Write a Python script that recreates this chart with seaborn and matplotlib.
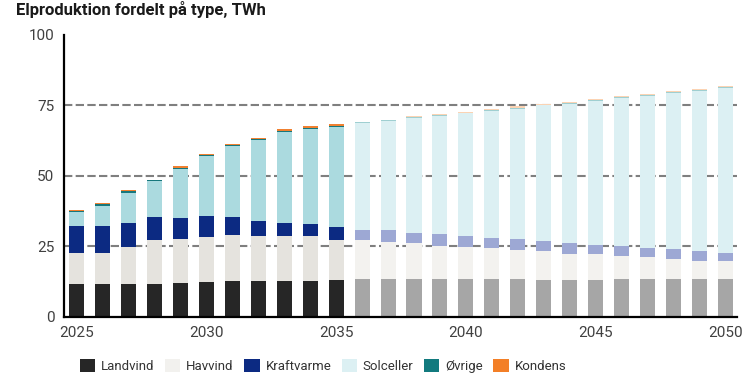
import seaborn as sns
import matplotlib.pyplot as plt
import matplotlib.patches as mpatches
import numpy as np
import pandas as pd

# Elproduktion fordelt på type, TWh (2025-2035 basis, 2036-2050 fremskrivning)
years = list(range(2025, 2051))
landvind = [11.5, 11.5, 11.5, 11.5, 11.9, 12.3, 12.6, 12.6, 12.6, 12.6, 13.0, 13.2, 13.2,
            13.2, 13.2, 13.2, 13.2, 13.2, 13.0, 13.0, 13.0, 13.3, 13.3, 13.3, 13.3, 13.3]
havvind = [11.1, 11.1, 13.3, 15.7, 15.6, 15.8, 16.4, 16.0, 16.0, 16.0, 14.3, 14.0, 13.2,
           12.8, 11.9, 11.6, 11.2, 10.4, 10.4, 9.4, 9.2, 8.2, 7.7, 7.2, 6.5, 6.3]
kraftvarme = [9.6, 9.6, 8.6, 8.0, 7.4, 7.6, 6.2, 5.4, 4.7, 4.3, 4.5, 3.7, 4.2,
              3.8, 4.1, 3.9, 3.5, 3.8, 3.4, 3.9, 3.4, 3.6, 3.4, 3.6, 3.5, 3.1]
solceller = [4.9, 7.2, 10.6, 12.8, 17.6, 21.4, 25.2, 28.6, 32.3, 33.7, 35.5, 37.8, 38.8,
             40.7, 42.1, 43.4, 45.2, 46.4, 48.2, 49.3, 51.0, 52.5, 54.0, 55.4, 56.9, 58.4]
ovrige = [0.4, 0.4, 0.5, 0.3, 0.3, 0.3, 0.4, 0.3, 0.3, 0.3, 0.3, 0.2, 0.2,
          0.2, 0.2, 0.2, 0.2, 0.2, 0.2, 0.2, 0.2, 0.2, 0.2, 0.2, 0.2, 0.2]
kondens = [0.5, 0.5, 0.6, 0.3, 0.5, 0.3, 0.5, 0.5, 0.5, 0.6, 0.6, 0.3, 0.3,
           0.3, 0.4, 0.3, 0.4, 0.6, 0.4, 0.5, 0.4, 0.5, 0.5, 0.3, 0.5, 0.5]
last_base_year = 2035

series_names = ["Landvind", "Havvind", "Kraftvarme", "Solceller", "Øvrige", "Kondens"]
colors_base = ["#262626", "#e5e3de", "#0c2a82", "#abdadf", "#17777c", "#f08030"]
colors_proj = ["#a6a6a6", "#f3f2ef", "#9da8d4", "#dcf0f3", "#9fcfd1", "#fbd3b3"]
legend_colors = ["#262626", "#f2f1ee", "#0c2a82", "#dcf0f3", "#127a7e", "#f37f27"]

sns.set_theme(style="white")
plt.rcParams["font.family"] = ["Roboto", "DejaVu Sans"]

df = pd.DataFrame({"year": years, "Landvind": landvind, "Havvind": havvind,
                   "Kraftvarme": kraftvarme, "Solceller": solceller,
                   "Øvrige": ovrige, "Kondens": kondens})
stack = df[series_names].cumsum(axis=1)
period = np.where(df["year"] <= last_base_year, "base", "proj")

fig = plt.figure(figsize=(7.5, 3.84), dpi=100)
ax = fig.add_axes([0.0857, 0.1753, 0.897, 0.7343])

# dashed reference lines behind the bars
for y in [25, 50, 75]:
    ax.axhline(y, color="#7f7f7f", linewidth=1.5, linestyle=(0, (4, 1.6)), zorder=0)

# stacked bars: draw cumulative totals from the top series down
for i in reversed(range(len(series_names))):
    name = series_names[i]
    plot_df = pd.DataFrame({"year": df["year"], "top": stack[name], "period": period})
    sns.barplot(data=plot_df, x="year", y="top", hue="period",
                palette={"base": colors_base[i], "proj": colors_proj[i]},
                native_scale=True, dodge=False, width=0.58, saturation=1,
                linewidth=0, errorbar=None, legend=False, ax=ax, zorder=2)

ax.set_xlim(2024.51, 2050.46)
ax.set_ylim(0, 100)
ax.set_xticks([2025, 2030, 2035, 2040, 2045, 2050])
ax.set_xticklabels(["2025", "2030", "2035", "2040", "2045", "2050"])
ax.set_yticks([0, 25, 50, 75, 100])
ax.set_yticklabels(["0", "25", "50", "75", "100"])
ax.set_xlabel("")
ax.set_ylabel("")
ax.tick_params(length=0, pad=7, labelsize=11, labelcolor="#404040")
for side in ["top", "right"]:
    ax.spines[side].set_visible(False)
for side in ["left", "bottom"]:
    ax.spines[side].set_color("black")
    ax.spines[side].set_linewidth(1.6)
    ax.spines[side].set_zorder(5)

fig.text(16 / 750, 1 - 15 / 384, "Elproduktion fordelt på type, TWh",
         fontsize=12, fontweight="bold", color="#1a1a1a", ha="left", va="baseline")

handles = [mpatches.Patch(facecolor=c, edgecolor="none", label=n)
           for c, n in zip(legend_colors, series_names)]
fig.legend(handles=handles, loc="center left", bbox_to_anchor=(80 / 750, 1 - 366 / 384),
           ncol=6, frameon=False, handlelength=1.15, handleheight=1.15,
           handletextpad=0.45, columnspacing=0.8, borderpad=0, borderaxespad=0,
           labelcolor="#333333", fontsize=9.5)

fig.savefig("out.png", dpi=100)
